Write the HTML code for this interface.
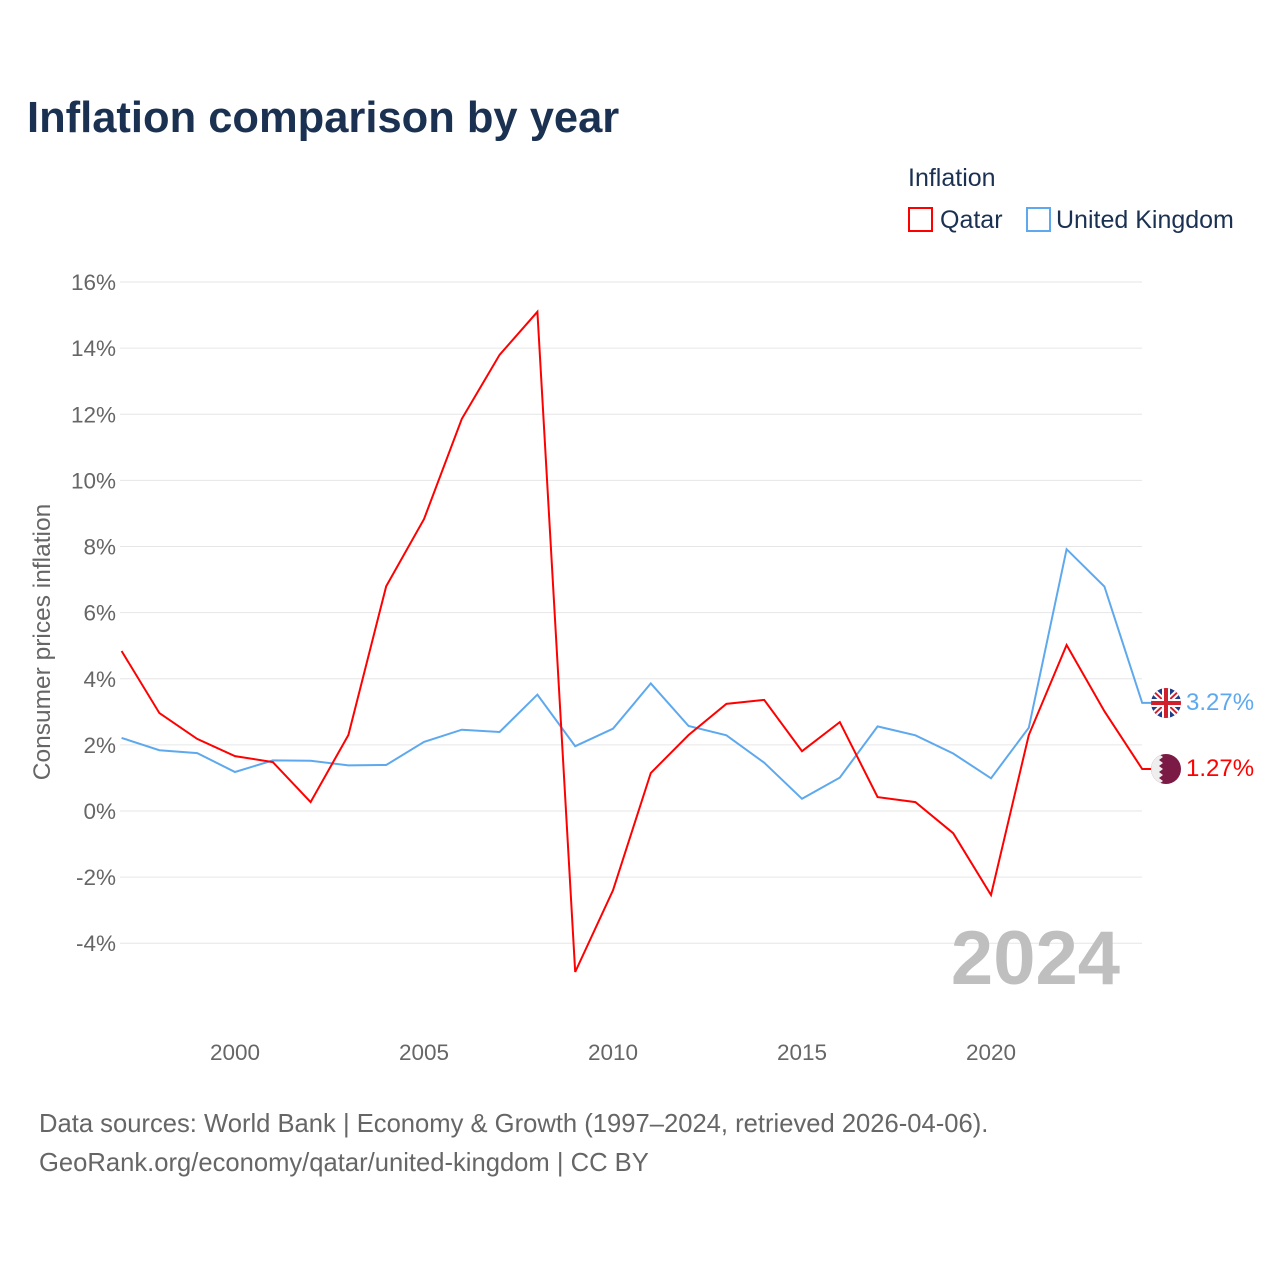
<!DOCTYPE html>
<html><head><meta charset="utf-8"><style>
body{margin:0;background:#fff;font-family:"Liberation Sans",sans-serif;}
</style></head><body>
<svg width="1280" height="1280" xmlns="http://www.w3.org/2000/svg">
<text x="27" y="132" font-size="43.5" font-weight="bold" fill="#1b3152">Inflation comparison by year</text>
<text x="908" y="186" font-size="25" fill="#1b3152">Inflation</text>
<g><rect x="909" y="208" width="23" height="23" fill="none" stroke="#f00" stroke-width="2"/><text x="940" y="228" font-size="25" fill="#1b3152">Qatar</text></g>
<g><rect x="1027" y="208" width="23" height="23" fill="none" stroke="#5ea9ee" stroke-width="2"/><text x="1056" y="228" font-size="25" fill="#1b3152">United Kingdom</text></g>
<g id="grid"></g>
<g id="yt"></g>
<g id="xt"></g>
<text transform="translate(50,642) rotate(-90)" text-anchor="middle" font-size="24.5" fill="#666">Consumer prices inflation</text>
<text x="1120" y="984" text-anchor="end" font-size="76" font-weight="bold" fill="#bfbfbf">2024</text>
<g id="lines"></g>
<g>
<clipPath id="c1"><circle cx="1166" cy="703" r="15"/></clipPath>
<g clip-path="url(#c1)"><rect x="1150" y="688" width="32" height="30" fill="#1f3b8c"/>
<path d="M1150 688L1182 718M1182 688L1150 718" stroke="#fff" stroke-width="6"/>
<path d="M1150 688L1182 718M1182 688L1150 718" stroke="#d0202e" stroke-width="2"/>
<path d="M1166 688V718M1150 703H1182" stroke="#fff" stroke-width="8"/>
<path d="M1166 688V718M1150 703H1182" stroke="#d0202e" stroke-width="4"/></g></g>
<g>
<clipPath id="c2"><circle cx="1166" cy="769" r="15"/></clipPath>
<g clip-path="url(#c2)"><rect x="1150" y="754" width="32" height="30" fill="#7a1a45"/>
<path d="M1150 754H1159L1163 757L1159 760L1163 763L1159 766L1163 769L1159 772L1163 775L1159 778L1163 781L1159 784H1150Z" fill="#eee"/></g></g>
<text x="1186" y="710" font-size="24" fill="#5ea9ee">3.27%</text>
<text x="1186" y="776" font-size="24" fill="#f00">1.27%</text>
<text x="39" y="1132" font-size="25.6" fill="#666">Data sources: World Bank | Economy &amp; Growth (1997–2024, retrieved 2026-04-06).</text>
<text x="39" y="1171" font-size="25.6" fill="#666">GeoRank.org/economy/qatar/united-kingdom | CC BY</text>
</svg>
<script>
const years=[1997,1998,1999,2000,2001,2002,2003,2004,2005,2006,2007,2008,2009,2010,2011,2012,2013,2014,2015,2016,2017,2018,2019,2020,2021,2022,2023,2024];
const qatar=[4.84,2.96,2.18,1.66,1.48,0.27,2.3,6.8,8.83,11.86,13.8,15.1,-4.87,-2.4,1.15,2.3,3.24,3.36,1.81,2.69,0.42,0.27,-0.67,-2.54,2.3,5.02,3.02,1.27];
const uk=[2.21,1.84,1.75,1.18,1.53,1.52,1.38,1.39,2.09,2.46,2.39,3.52,1.96,2.49,3.86,2.57,2.29,1.46,0.37,1.01,2.56,2.29,1.74,0.99,2.52,7.92,6.79,3.27];
const yTicks=[-4,-2,0,2,4,6,8,10,12,14,16];
const xTicks=[2000,2005,2010,2015,2020];
const NS="http://www.w3.org/2000/svg";
const X=v=>121.6+(v-1997)*37.8, Y=v=>811-v*33.06;
const grid=document.getElementById('grid'),yt=document.getElementById('yt'),xt=document.getElementById('xt'),lines=document.getElementById('lines');
yTicks.forEach(t=>{const l=document.createElementNS(NS,'line');l.setAttribute('x1',120);l.setAttribute('x2',1142);l.setAttribute('y1',Y(t));l.setAttribute('y2',Y(t));l.setAttribute('stroke','#e6e6e6');


grid.appendChild(l);
const tx=document.createElementNS(NS,'text');tx.setAttribute('x',116);tx.setAttribute('y',Y(t)+8);tx.setAttribute('text-anchor','end');tx.setAttribute('font-size','22.5');tx.setAttribute('fill','#666');tx.textContent=t+'%';


yt.appendChild(tx);});
xTicks.forEach(t=>{const tx=document.createElementNS(NS,'text');tx.setAttribute('x',X(t));tx.setAttribute('y',1060);tx.setAttribute('text-anchor','middle');tx.setAttribute('font-size','22.5');tx.setAttribute('fill','#666');tx.textContent=t;


xt.appendChild(tx);});
function line(d,c,n){const p=document.createElementNS(NS,'path');let s=d.map((v,i)=>(i?'L':'M')+X(years[i]).toFixed(1)+' '+Y(v).toFixed(1)).join('');s+='H'+(X(years[years.length-1])+10);p.setAttribute('d',s);p.setAttribute('fill','none');p.setAttribute('stroke',c);p.setAttribute('stroke-width','2');


lines.appendChild(p);}
line(uk,'#5ea9ee','uk-line');line(qatar,'#f00','qatar-line');
</script>
</body></html>
